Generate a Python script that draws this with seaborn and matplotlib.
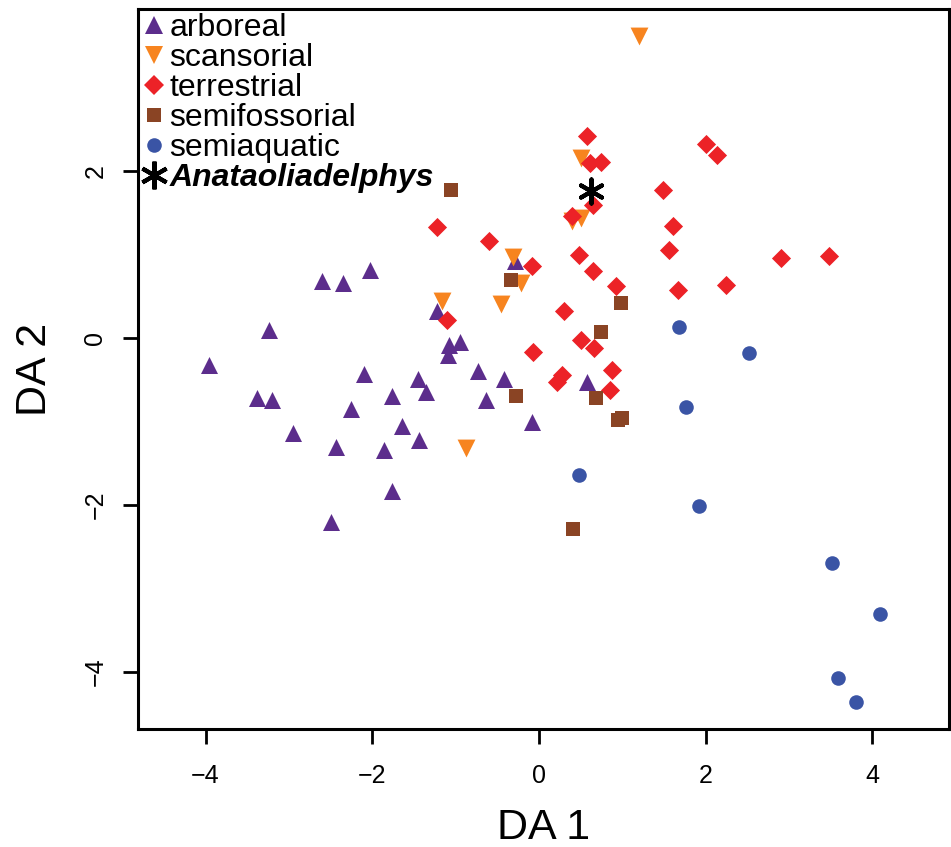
import matplotlib
matplotlib.use("Agg")
import matplotlib.pyplot as plt
from matplotlib.lines import Line2D
import seaborn as sns
import pandas as pd

# DA scores, one pair of lists per locomotor group
arboreal_x = [-2.03, -2.60, -2.35, -3.24, -3.96, -3.38, -3.20, -2.95, -2.10, -2.25,
              -2.44, -1.76, -1.45, -1.35, -1.64, -1.44, -1.86, -1.76, -2.49, -1.22,
              -1.08, -0.95, -1.09, -0.73, -0.42, -0.64, -0.08, 0.58, -0.29]
arboreal_y = [0.82, 0.68, 0.66, 0.10, -0.32, -0.72, -0.74, -1.14, -0.43, -0.85,
              -1.30, -0.69, -0.49, -0.65, -1.05, -1.22, -1.34, -1.83, -2.20, 0.33,
              -0.08, -0.05, -0.20, -0.40, -0.49, -0.74, -1.00, -0.52, 0.93]

scansorial_x = [1.20, 0.51, 0.40, 0.51, -0.31, -0.22, -1.16, -0.45, -0.87]
scansorial_y = [3.62, 2.16, 1.40, 1.44, 0.97, 0.66, 0.44, 0.41, -1.32]

terrestrial_x = [0.58, 0.61, 0.75, 0.65, 0.40, 1.49, -1.22, -0.60, -0.08, 0.48,
                 0.65, 0.92, 1.61, 1.56, 2.00, 2.14, 2.91, 3.48, 1.67, 2.24,
                 -1.10, -0.07, 0.30, 0.51, 0.66, 0.88, 0.85, 0.28, 0.22]
terrestrial_y = [2.42, 2.10, 2.11, 1.60, 1.46, 1.78, 1.33, 1.17, 0.87, 1.00,
                 0.80, 0.62, 1.34, 1.06, 2.33, 2.20, 0.96, 0.99, 0.58, 0.64,
                 0.22, -0.17, 0.32, -0.02, -0.12, -0.38, -0.62, -0.44, -0.53]

semifossorial_x = [-1.06, -0.33, 0.98, 0.75, -0.27, 0.69, 0.95, 1.00, 0.41]
semifossorial_y = [1.78, 0.70, 0.42, 0.07, -0.70, -0.72, -0.98, -0.96, -2.29]

semiaquatic_x = [1.68, 2.52, 1.77, 0.48, 1.92, 3.52, 4.09, 3.59, 3.81]
semiaquatic_y = [0.13, -0.18, -0.83, -1.64, -2.01, -2.70, -3.31, -4.08, -4.37]

fossil_x = [0.62]
fossil_y = [1.76]

x_ticks = [-4, -2, 0, 2, 4]
y_ticks = [-4, -2, 0, 2]

groups = ["arboreal", "scansorial", "terrestrial", "semifossorial", "semiaquatic"]
colors = {"arboreal": "#5c2d8c", "scansorial": "#f7841f", "terrestrial": "#ec2227",
          "semifossorial": "#8a4424", "semiaquatic": "#3a54a5"}
markers = {"arboreal": "^", "scansorial": "v", "terrestrial": "D",
           "semifossorial": "s", "semiaquatic": "o"}
sizes = {"arboreal": 150, "scansorial": 165, "terrestrial": 95,
         "semifossorial": 105, "semiaquatic": 110}

df = pd.concat([
    pd.DataFrame({"DA1": arboreal_x, "DA2": arboreal_y, "group": "arboreal"}),
    pd.DataFrame({"DA1": scansorial_x, "DA2": scansorial_y, "group": "scansorial"}),
    pd.DataFrame({"DA1": terrestrial_x, "DA2": terrestrial_y, "group": "terrestrial"}),
    pd.DataFrame({"DA1": semifossorial_x, "DA2": semifossorial_y, "group": "semifossorial"}),
    pd.DataFrame({"DA1": semiaquatic_x, "DA2": semiaquatic_y, "group": "semiaquatic"}),
], ignore_index=True)

sns.set_style("white")
plt.rcParams["font.family"] = ["Liberation Sans", "DejaVu Sans"]
plt.rcParams.update({"text.color": "black", "axes.labelcolor": "black",
                     "xtick.color": "black", "ytick.color": "black"})

fig = plt.figure(figsize=(9.51, 8.47), dpi=100)
ax = fig.add_axes([138 / 951, 1 - 729 / 847, 811 / 951, 720 / 847])

for g in groups:
    sub = df[df["group"] == g]
    sns.scatterplot(data=sub, x="DA1", y="DA2", color=colors[g], marker=markers[g],
                    s=sizes[g], linewidth=0, ax=ax, legend=False, zorder=3)

ax.scatter(fossil_x, fossil_y, marker=(6, 2, 0), s=300, color="black",
           linewidths=3, zorder=5)

ax.set_xlim(-4.81, 4.92)
ax.set_ylim(-4.69, 3.95)
ax.set_xticks(x_ticks)
ax.set_yticks(y_ticks)
ax.set_xticklabels([str(t).replace("-", "\u2212") for t in x_ticks], fontsize=18)
ax.set_yticklabels([str(t).replace("-", "\u2212") for t in y_ticks], fontsize=18,
                   rotation=90, va="center")

for sp in ax.spines.values():
    sp.set_visible(True)
    sp.set_linewidth(2.2)
    sp.set_color("black")

ax.tick_params(axis="both", direction="out", length=11, width=2, color="black",
               labelcolor="black", pad=14, bottom=True, left=True)
ax.tick_params(axis="y", pad=11)

ax.set_xlabel("DA 1", fontsize=31, color="black")
ax.set_ylabel("DA 2", fontsize=31, color="black")
ax.xaxis.set_label_coords(0.5, -0.1375)
ax.xaxis.label.set_va("center")
ax.yaxis.set_label_coords(-0.127, 0.5)
ax.yaxis.label.set_va("center")

handles = [Line2D([], [], linestyle="none", marker=markers[g], color=colors[g],
                  markersize=sizes[g] ** 0.5, markeredgewidth=0) for g in groups]
handles.append(Line2D([], [], linestyle="none", marker=(6, 2, 0), color="black",
                      markersize=20, markeredgewidth=3))
leg = ax.legend(handles, groups + ["Anataoliadelphys"], loc="upper left",
                bbox_to_anchor=(0, 1), frameon=False, labelcolor="black",
                prop={"family": ["Liberation Sans", "DejaVu Sans"], "size": 23},
                handlelength=0.75, handletextpad=0.12, labelspacing=0.0,
                borderaxespad=0.12, borderpad=0.0)
leg.get_texts()[-1].set_fontweight("bold")
leg.get_texts()[-1].set_fontstyle("italic")

fig.savefig("out.png", dpi=100)
